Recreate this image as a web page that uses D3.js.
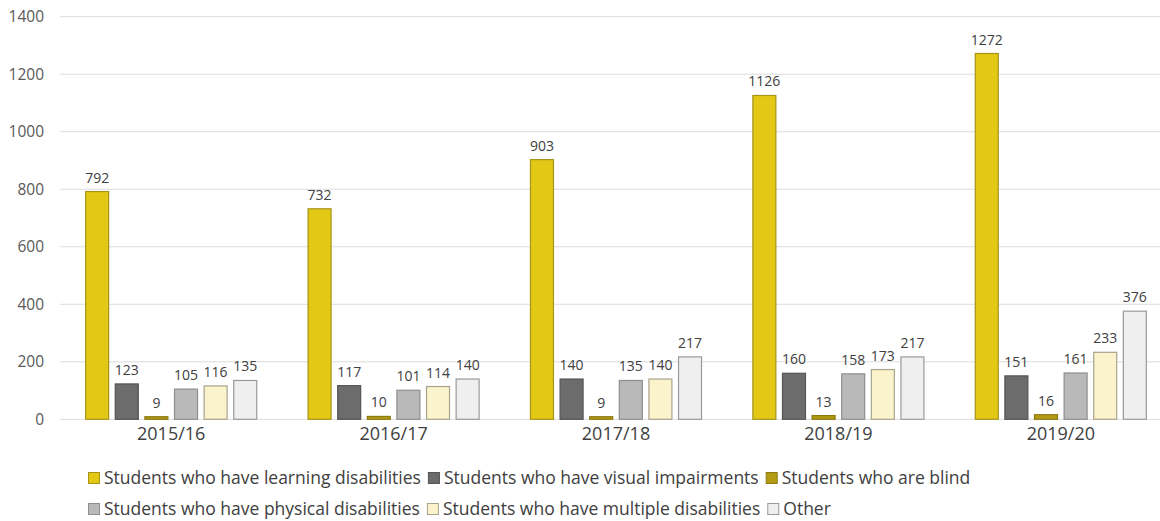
<!DOCTYPE html>
<html>
<head>
<meta charset="utf-8">
<script src="https://cdn.jsdelivr.net/npm/d3@7"></script>
<style>
  html, body { margin: 0; padding: 0; background: #fff; }
  svg { display: block; font-family: "Open Sans", "Liberation Sans", sans-serif; }
</style>
</head>
<body>
<svg id="chart" width="1160" height="521"></svg>
<script>
// Academic years shown along the category axis
const years = ["2015/16", "2016/17", "2017/18", "2018/19", "2019/20"];

// Student counts per group of students, one value per year
const learningDisabilities = [792, 732, 903, 1126, 1272];
const visualImpairments   = [123, 117, 140, 160, 151];
const blind               = [9, 10, 9, 13, 16];
const physicalDisabilities = [105, 101, 135, 158, 161];
const multipleDisabilities = [116, 114, 140, 173, 233];
const other               = [135, 140, 217, 217, 376];

const seriesNames = [
  "Students who have learning disabilities",
  "Students who have visual impairments",
  "Students who are blind",
  "Students who have physical disabilities",
  "Students who have multiple disabilities",
  "Other"
];
const seriesValues = [learningDisabilities, visualImpairments, blind,
                      physicalDisabilities, multipleDisabilities, other];

const yTicks = [0, 200, 400, 600, 800, 1000, 1200, 1400];

// Fill and outline for each series
const fills   = ["#E3C916", "#6C6C6C", "#B29B12", "#B9B9B9", "#FBF3CB", "#EFEFEF"];
const strokes = ["#A69419", "#545454", "#8C7A14", "#8E8E8E", "#A8A38C", "#9A9A9A"];

const svg = d3.select("#chart");

const plot = { left: 60, right: 1172, top: 16.7, bottom: 419.3 };

const x0 = d3.scaleBand()
  .domain(years)
  .range([plot.left, plot.right])
  .paddingInner(0)
  .paddingOuter(0);

const x1 = d3.scaleBand()
  .domain(d3.range(seriesNames.length))
  .range([0, x0.bandwidth()])
  .paddingInner(0.19)
  .paddingOuter(0.85);

const y = d3.scaleLinear()
  .domain([0, 1400])
  .range([plot.bottom, plot.top]);

// Horizontal gridlines
svg.append("g")
  .selectAll("line")
  .data(yTicks)
  .join("line")
  .attr("x1", plot.left)
  .attr("x2", 1160)
  .attr("y1", d => y(d))
  .attr("y2", d => y(d))
  .attr("stroke", "#DCDCDC")
  .attr("stroke-width", 1);

// Value axis labels
const yAxis = d3.axisLeft(y).tickValues(yTicks).tickFormat(d3.format("d")).tickSize(0).tickPadding(0);
const yg = svg.append("g")
  .attr("transform", `translate(${plot.left - 16},0)`)
  .call(yAxis);
yg.select(".domain").remove();
yg.selectAll("text")
  .attr("font-family", "'Open Sans', sans-serif")
  .attr("font-size", 15.5)
  .attr("fill", "#595959");

// Category axis labels
const xAxis = d3.axisBottom(x0).tickSize(0).tickPadding(0);
const xg = svg.append("g")
  .attr("transform", `translate(0,${plot.bottom + 8})`)
  .call(xAxis);
xg.select(".domain").remove();
xg.selectAll("text")
  .attr("font-family", "'Open Sans', sans-serif")
  .attr("font-size", 18)
  .attr("fill", "#404040");

// Bars and value labels
const rows = [];
years.forEach((yr, i) => {
  seriesValues.forEach((vals, s) => rows.push({ year: yr, s, v: vals[i] }));
});

const groups = svg.append("g");
groups.selectAll("rect")
  .data(rows)
  .join("rect")
  .attr("x", d => x0(d.year) + x1(d.s) + 0.5)
  .attr("y", d => y(d.v))
  .attr("width", x1.bandwidth() - 1)
  .attr("height", d => y(0) - y(d.v))
  .attr("fill", d => fills[d.s])
  .attr("stroke", d => strokes[d.s])
  .attr("stroke-width", 1.2);

groups.selectAll("text")
  .data(rows)
  .join("text")
  .attr("x", d => x0(d.year) + x1(d.s) + x1.bandwidth() / 2)
  .attr("y", d => y(d.v) - 9)
  .attr("text-anchor", "middle")
  .attr("font-size", 14)
  .attr("fill", "#404040")
  .text(d => d.v);

// Legend in two rows
const legendRows = [[0, 1, 2], [3, 4, 5]];
const legendY = [478, 509];
legendRows.forEach((items, r) => {
  let cx = 88;
  items.forEach(s => {
    const g = svg.append("g").attr("transform", `translate(${cx},${legendY[r]})`);
    g.append("rect")
      .attr("x", 0.5).attr("y", -5.5)
      .attr("width", 11).attr("height", 11)
      .attr("fill", fills[s])
      .attr("stroke", strokes[s])
      .attr("stroke-width", 1);
    const t = g.append("text")
      .attr("x", 16)
      .attr("dy", "0.35em")
      .attr("font-size", 17.5)
      .attr("fill", "#404040")
      .text(seriesNames[s]);
    cx += 16 + t.node().getComputedTextLength() + 7;
  });
});
</script>
</body>
</html>
